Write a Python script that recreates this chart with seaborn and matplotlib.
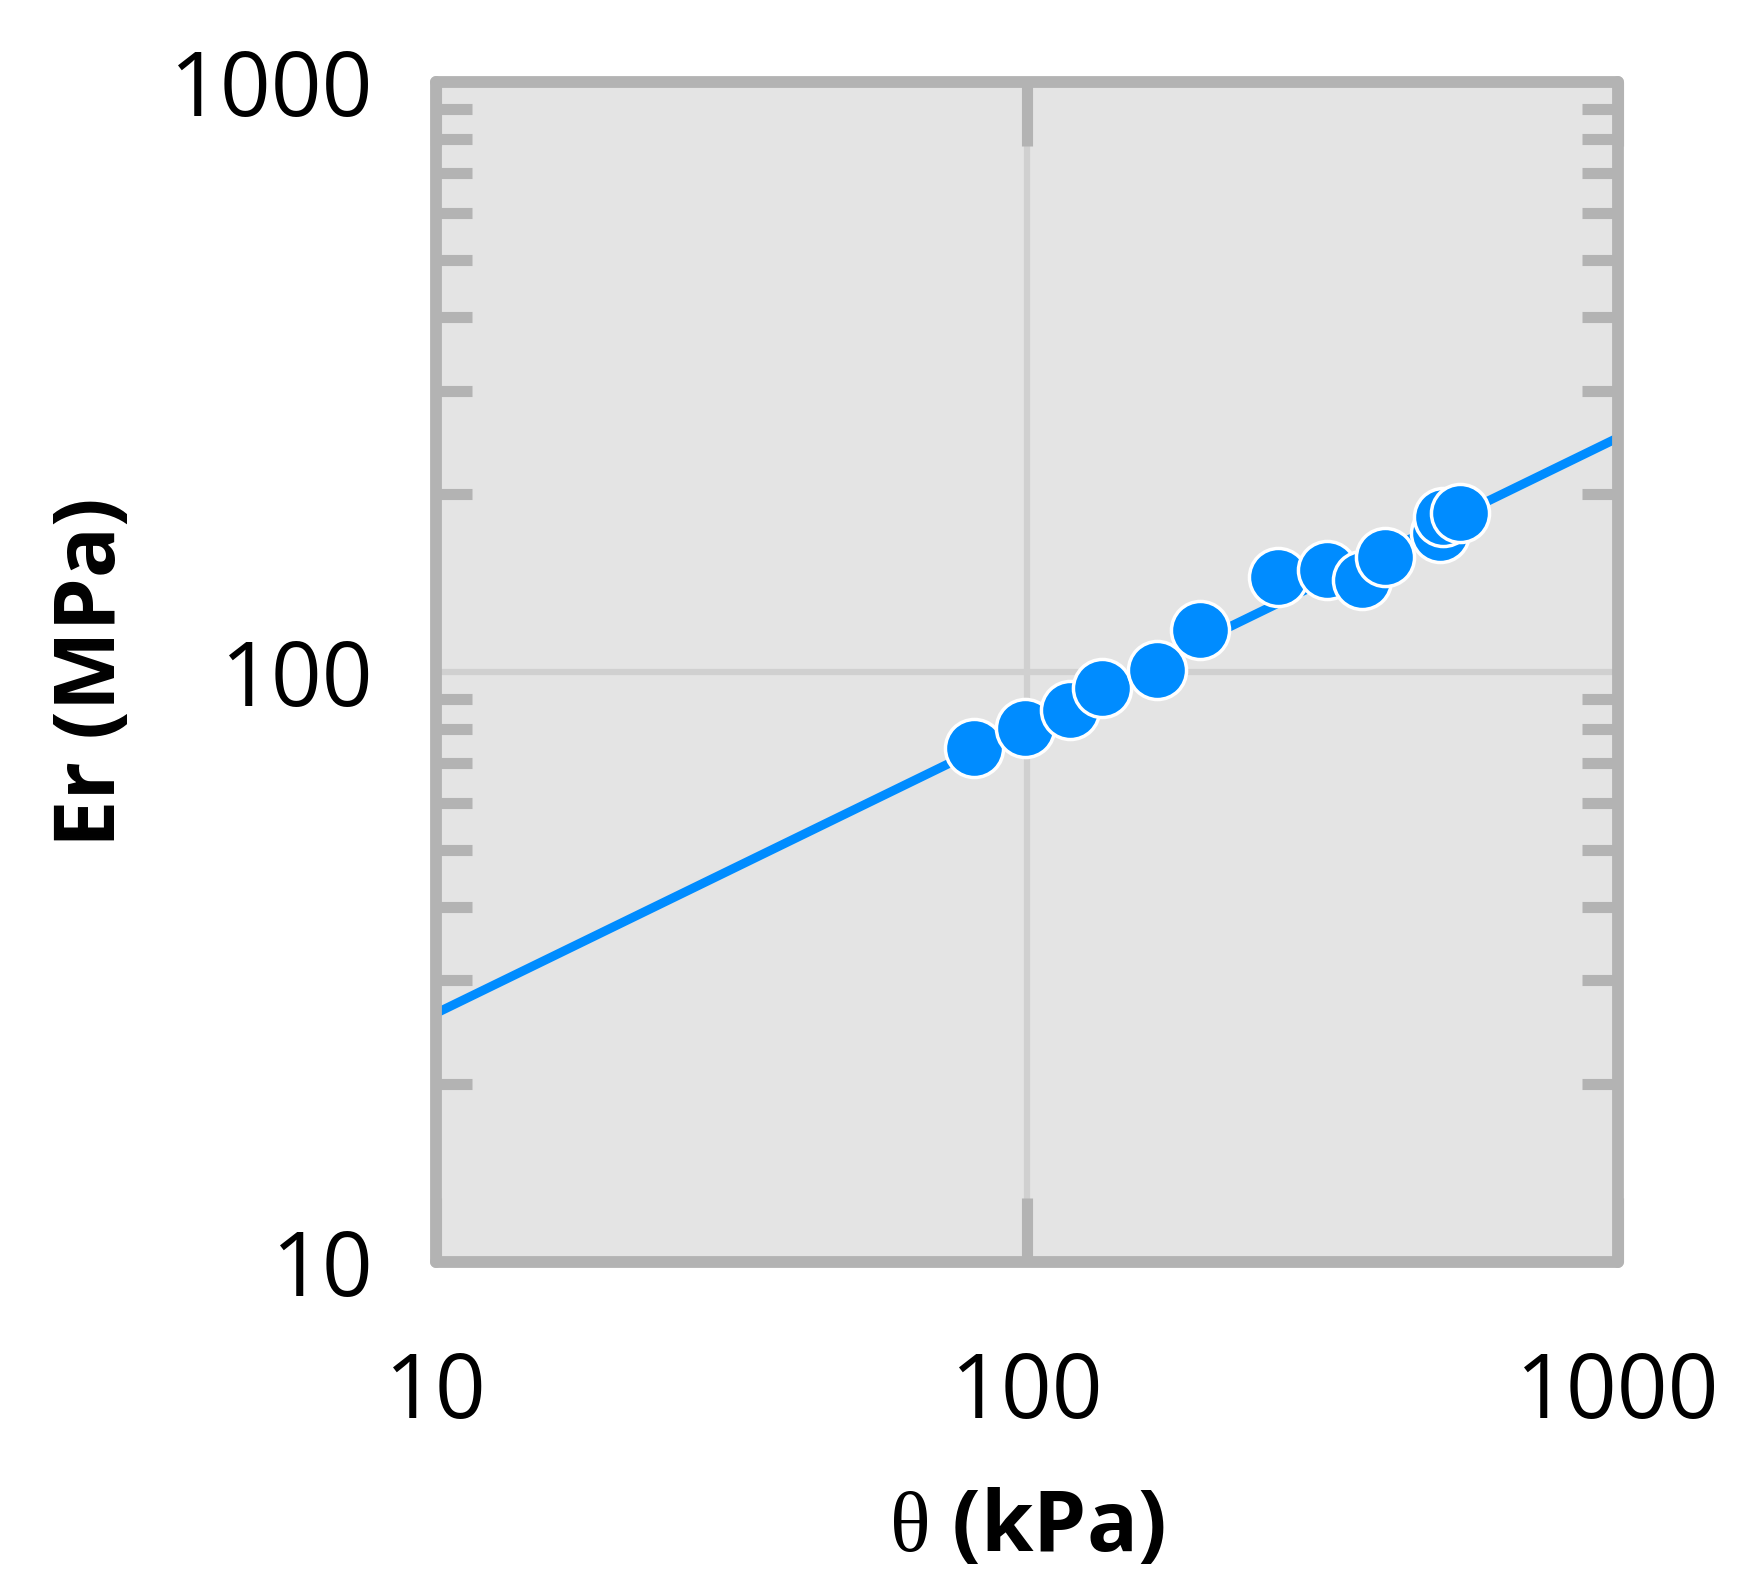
import numpy as np
import pandas as pd
import matplotlib
matplotlib.use('Agg')
import matplotlib.pyplot as plt
import matplotlib.ticker as mticker
import seaborn as sns

# ── data ─────────────────────────────────────────────────────
theta = [81.2, 99.2, 118.3, 133.8, 165.8, 196.2, 266.2, 321.5,
         368.5, 403.5, 499.7, 505.6, 540.4]          # kPa
er = [74.3, 80.3, 86.2, 93.8, 100.8, 117.8, 145.0, 148.9,
      143.2, 156.8, 171.8, 183.1, 185.8]             # MPa

# fitted power-law line (ends of the axis range)
fit_theta = [10, 1000]
fit_er = [26.4, 249.5]

pts = pd.DataFrame({'theta': theta, 'Er': er})
fit = pd.DataFrame({'theta': fit_theta, 'Er': fit_er})

blue = '#008CFF'
frame = '#B3B3B3'

sns.set_style('white')
plt.rcParams['font.family'] = ['Open Sans', 'DejaVu Sans']
plt.rcParams['text.color'] = 'black'
plt.rcParams['axes.labelcolor'] = 'black'
plt.rcParams['xtick.labelcolor'] = 'black'
plt.rcParams['ytick.labelcolor'] = 'black'
plt.rcParams['mathtext.fontset'] = 'custom'
plt.rcParams['mathtext.rm'] = 'Liberation Serif'
plt.rcParams['mathtext.it'] = 'Liberation Serif'

fig = plt.figure(figsize=(17.42, 15.93), dpi=100)
ax = fig.add_axes([0.2503, 0.2078, 0.9288 - 0.2503, 0.9485 - 0.2078])
ax.set_facecolor('#E4E4E4')

sns.lineplot(data=fit, x='theta', y='Er', color=blue, lw=6.5, ax=ax, zorder=2)
sns.scatterplot(data=pts, x='theta', y='Er', color=blue, s=1750,
                edgecolor='white', linewidth=2.5, ax=ax, zorder=3)

ax.set_xscale('log')
ax.set_yscale('log')
ax.set_xlim(10, 1000)
ax.set_ylim(10, 1000)

# grid only at the middle decade, kept under the ticks
ax.grid(False)
ax.axvline(100, color='#D0D0D0', lw=4.5, zorder=0.3)
ax.axhline(100, color='#D0D0D0', lw=4.5, zorder=0.3)

for s in ax.spines.values():
    s.set_color(frame)
    s.set_linewidth(8.5)
    s.set_capstyle('round')

ax.xaxis.set_major_locator(mticker.FixedLocator([10, 100, 1000]))
ax.xaxis.set_major_formatter(mticker.FixedFormatter(['10', '100', '1000']))
ax.xaxis.set_minor_locator(mticker.NullLocator())
ax.yaxis.set_major_locator(mticker.FixedLocator([10, 100, 1000]))
ax.yaxis.set_major_formatter(mticker.FixedFormatter(['10', '100', '1000']))
ax.yaxis.set_minor_locator(mticker.LogLocator(base=10, subs=np.arange(2, 10)))
ax.yaxis.set_minor_formatter(mticker.NullFormatter())

ax.tick_params(axis='x', which='major', direction='in', length=46, width=8,
               color=frame, top=True, bottom=True, labelsize=64, pad=63)
ax.tick_params(axis='y', which='major', direction='in', length=0,
               left=True, right=True, labelsize=64, pad=45)
ax.tick_params(axis='y', which='minor', direction='in', length=26, width=8,
               color=frame, left=True, right=True)

ax.set_xlabel(r'$\mathrm{\theta}$ (kPa)', fontsize=61, fontweight='bold',
              labelpad=34)
ax.set_ylabel('Er (MPa)', fontsize=61, fontweight='bold', labelpad=25)

fig.savefig('out.png', dpi=100)
